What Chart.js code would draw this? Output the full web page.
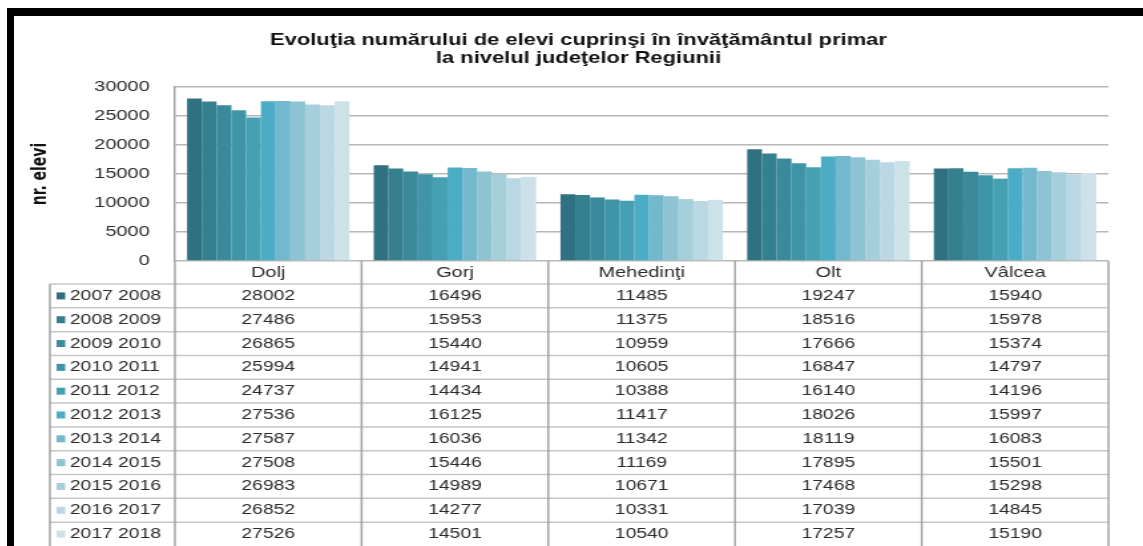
<!DOCTYPE html>
<html>
<head>
<meta charset="utf-8">
<title>Evoluţia numărului de elevi</title>
<script src="https://cdn.jsdelivr.net/npm/chart.js@4/dist/chart.umd.min.js"></script>
<style>
    html, body { margin: 0; padding: 0; background: #fff; overflow: hidden; }
    #frame {
        position: absolute; left: 7px; top: 8px; right: 0; bottom: 0;
        border-top: 8px solid #000; border-left: 7px solid #000;
    }
    /* drawn narrower and stretched sideways, like the source picture */
    #chart {
        position: absolute; left: 14px; top: 16px;
        width: 1129px; height: 530px;
    }
</style>
</head>
<body>
<div id="frame"></div>
<canvas id="chart" width="849" height="530" style="width:1129px;height:530px"></canvas>
<script>
(function () {
    'use strict';

    // ─── Data ────────────────────────────────────────────────────────────────
    const categories = ['Dolj', 'Gorj', 'Mehedinţi', 'Olt', 'Vâlcea'];
    const yearLabels = ['2007 2008', '2008 2009', '2009 2010', '2010 2011', '2011 2012', '2012 2013',
                        '2013 2014', '2014 2015', '2015 2016', '2016 2017', '2017 2018'];

    const y2007 = [28002, 16496, 11485, 19247, 15940];
    const y2008 = [27486, 15953, 11375, 18516, 15978];
    const y2009 = [26865, 15440, 10959, 17666, 15374];
    const y2010 = [25994, 14941, 10605, 16847, 14797];
    const y2011 = [24737, 14434, 10388, 16140, 14196];
    const y2012 = [27536, 16125, 11417, 18026, 15997];
    const y2013 = [27587, 16036, 11342, 18119, 16083];
    const y2014 = [27508, 15446, 11169, 17895, 15501];
    const y2015 = [26983, 14989, 10671, 17468, 15298];
    const y2016 = [26852, 14277, 10331, 17039, 14845];
    const y2017 = [27526, 14501, 10540, 17257, 15190];
    const seriesValues = [y2007, y2008, y2009, y2010, y2011, y2012, y2013, y2014, y2015, y2016, y2017];

    const yTicks = [0, 5000, 10000, 15000, 20000, 25000, 30000];

    const colors = ['#2f7181', '#34808f', '#3a8a9c', '#3f95a8', '#45a0b4', '#4badc5',
                    '#74b8ce', '#8ec3d4', '#a6cfdc', '#bad8e3', '#cde1e8'];

    const FONT = "'Liberation Sans', Arial, Helvetica, sans-serif";
    const TXT  = '#2b2b2b';

    Chart.defaults.font.family = FONT;
    Chart.defaults.color = TXT;

    // ─── Data table under the plot ───────────────────────────────────────────
    const dataTable = {
        id: 'dataTable',
        afterDraw(chart) {
            const ctx = chart.ctx;
            const a = chart.chartArea;
            const x = chart.scales.x;
            const n = categories.length;
            const colW = (a.right - a.left) / n;
            const headTop = a.bottom;
            const rowsTop = a.bottom + 23;
            const bottom = chart.height;
            const rowH = (bottom - rowsTop) / yearLabels.length;
            const legLeft = 27;

            function line(x1, y1, x2, y2) {
                ctx.beginPath();
                ctx.moveTo(x1, y1);
                ctx.lineTo(x2, y2);
                ctx.stroke();
            }

            ctx.save();
            ctx.lineWidth = 1.5;
            ctx.strokeStyle = '#c6c6c6';
            for (let k = 0; k < yearLabels.length; k++) {
                const y = rowsTop + k * rowH;
                line(legLeft, y, a.right, y);
            }
            ctx.strokeStyle = '#a3a3a3';
            for (let i = 0; i <= n; i++) {
                const xx = a.left + i * colW;
                line(xx, headTop, xx, bottom);
            }
            line(legLeft, rowsTop, legLeft, bottom);

            ctx.fillStyle = TXT;
            ctx.textBaseline = 'middle';
            ctx.textAlign = 'center';
            ctx.font = '15px ' + FONT;
            categories.forEach((c, i) => ctx.fillText(c, x.getPixelForValue(i), headTop + 12));

            ctx.font = '14.5px ' + FONT;
            chart.data.datasets.forEach((ds, k) => {
                const cy = rowsTop + k * rowH + rowH / 2;
                ctx.fillStyle = ds.backgroundColor;
                ctx.fillRect(32, cy - 3.5, 6.5, 7);
                ctx.fillStyle = TXT;
                ctx.textAlign = 'left';
                ctx.fillText(ds.label, 42, cy);
                ctx.textAlign = 'center';
                ds.data.forEach((v, i) => ctx.fillText(String(v), x.getPixelForValue(i), cy));
            });
            ctx.restore();
        }
    };

    new Chart(document.getElementById('chart'), {
        type: 'bar',
        data: {
            labels: categories,
            datasets: seriesValues.map((vals, k) => ({
                label: yearLabels[k],
                data: vals,
                backgroundColor: colors[k],
                borderWidth: 0,
                categoryPercentage: 0.87,
                barPercentage: 1.0,
            })),
        },
        options: {
            responsive: false,
            animation: false,
            events: [],
            layout: { padding: 0 },
            plugins: {
                legend: { display: false },
                tooltip: { enabled: false },
                title: {
                    display: true,
                    text: ['Evoluţia numărului de elevi cuprinşi în învăţământul primar',
                           'la nivelul judeţelor Regiunii'],
                    color: '#111',
                    font: { size: 16.5, weight: 'bold', lineHeight: 1.12 },
                    padding: { top: 15, bottom: 19 },
                },
            },
            scales: {
                x: {
                    ticks: { display: false },
                    grid: { display: false },
                    border: { display: false },
                    afterFit: s => { s.height = 285; },
                },
                y: {
                    min: 0,
                    max: 30000,
                    afterBuildTicks: s => { s.ticks = yTicks.map(v => ({ value: v })); },
                    afterFit: s => { s.width = 121; },
                    ticks: { padding: 19, color: TXT, font: { size: 15 }, callback: v => String(v) },
                    grid: { color: '#b8b8b8', lineWidth: 1.5, drawTicks: false },
                    border: { color: '#a0a0a0', width: 1.5 },
                    title: {
                        display: true,
                        text: 'nr. elevi',
                        color: '#111',
                        padding: { top: 11, bottom: 0 },
                        font: { family: "'Liberation Sans Narrow', 'DejaVu Sans Condensed', Arial, sans-serif",
                                size: 15.5, weight: 'bold' },
                    },
                },
                // empty right margin, keeps the title centred on the whole canvas
                yRight: {
                    position: 'right',
                    display: true,
                    ticks: { display: false },
                    grid: { display: false },
                    border: { display: false },
                    afterFit: s => { s.width = 26; },
                },
            },
        },
        plugins: [dataTable],
    });
})();
</script>
</body>
</html>
